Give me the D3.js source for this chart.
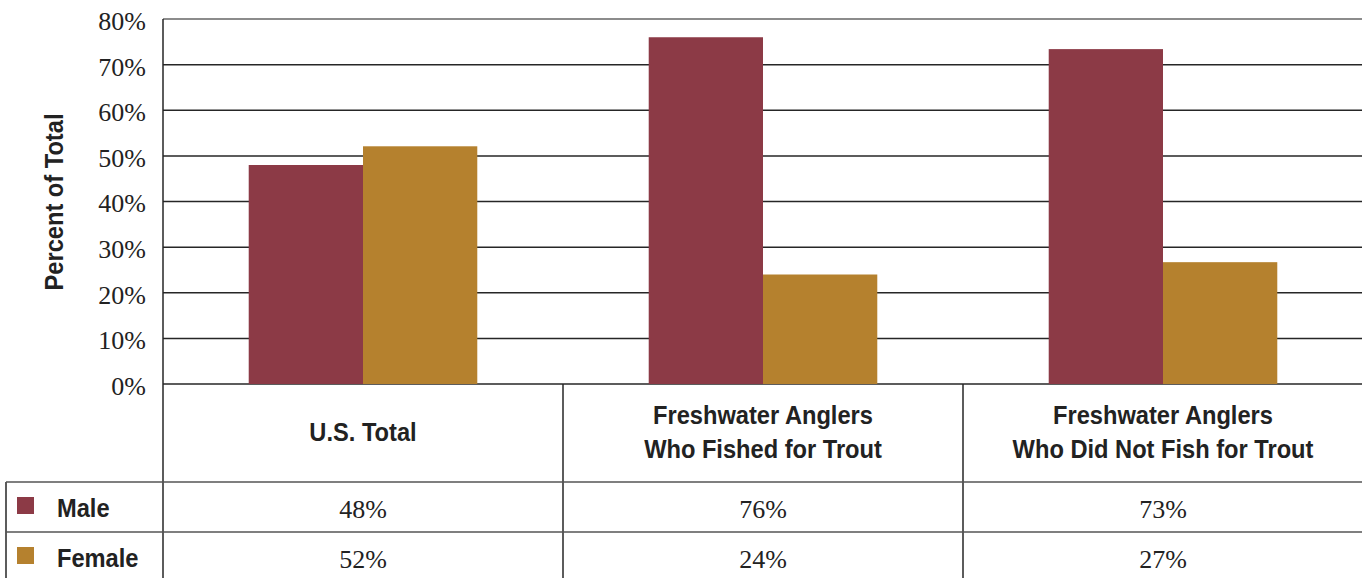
<!DOCTYPE html>
<html><head><meta charset="utf-8">
<script src="https://cdn.jsdelivr.net/npm/d3@7"></script>
<style>
body{margin:0;background:#fff;}
svg{display:block;}
</style></head>
<body>
<svg id="c" width="1362" height="578"></svg>
<script>
const categories = ["U.S. Total", "Freshwater Anglers\nWho Fished for Trout", "Freshwater Anglers\nWho Did Not Fish for Trout"];
const seriesNames = ["Male", "Female"];
const maleValues = [48, 76, 73.4];
const femaleValues = [52.1, 24, 26.7];
const yTicks = [0, 10, 20, 30, 40, 50, 60, 70, 80];
const colors = ["#8c3a46", "#b5812e"];

(function(){
const svg = d3.select("#c");
const pL = 163, pR = 1362, pT = 19, pB = 384;
const tableTop = 482, rowH = 50, tableLeft = 6;
const serif = "'Liberation Serif','DejaVu Serif',serif";
const cond = "'Liberation Sans','Arial',sans-serif";
const condSize = 26, sx = 0.91;

const x = d3.scaleBand().domain(categories).range([pL, pL + 1200]).paddingInner(0).paddingOuter(0);
const xs = d3.scaleBand().domain(seriesNames).range([0, x.bandwidth()]).paddingInner(0).paddingOuter(0.75);
const y = d3.scaleLinear().domain([0, 80]).range([pB, pT]);

svg.append("g").selectAll("line").data(yTicks).join("line")
  .attr("x1", pL).attr("x2", pR)
  .attr("y1", d => y(d)).attr("y2", d => y(d))
  .attr("stroke", d => d === 80 ? "#666" : "#262626").attr("stroke-width", 1.5);

const yAxis = d3.axisLeft(y).tickValues(yTicks).tickFormat(d => d + "%").tickSize(0).tickPadding(17);
const ya = svg.append("g").attr("transform", `translate(${pL},0)`).call(yAxis);
ya.select(".domain").remove();
ya.selectAll("text").attr("font-family", serif).attr("font-size", 26).attr("fill", "#222").attr("dy", "0.4em");

function condText(px, py, txt, anchor, rot) {
  return svg.append("text")
    .attr("transform", `translate(${px},${py})${rot ? " rotate(" + rot + ")" : ""} scale(${sx},1)`)
    .attr("text-anchor", anchor).attr("font-family", cond).attr("font-weight", "bold")
    .attr("font-size", condSize).attr("fill", "#222").text(txt);
}

condText(63, 202, "Percent of Total", "middle", -90);

const data = categories.map((c, i) => ({c, vals: [maleValues[i], femaleValues[i]]}));
const g = svg.append("g");
data.forEach(d => {
  seriesNames.forEach((s, j) => {
    g.append("rect")
      .attr("x", x(d.c) + xs(s)).attr("width", xs.bandwidth())
      .attr("y", y(d.vals[j])).attr("height", y(0) - y(d.vals[j]))
      .attr("fill", colors[j]);
  });
});

const lineCol = "#262626";
svg.append("line").attr("x1", pL).attr("x2", pL).attr("y1", pT).attr("y2", 578).attr("stroke", lineCol).attr("stroke-width", 1.5);
categories.slice(1).forEach(c => {
  svg.append("line").attr("x1", x(c)).attr("x2", x(c)).attr("y1", pB).attr("y2", 578).attr("stroke", lineCol).attr("stroke-width", 1.5);
});
svg.append("line").attr("x1", tableLeft).attr("x2", tableLeft).attr("y1", tableTop).attr("y2", 578).attr("stroke", lineCol).attr("stroke-width", 1.5);
[tableTop, tableTop + rowH].forEach(yy => {
  svg.append("line").attr("x1", tableLeft).attr("x2", pR).attr("y1", yy).attr("y2", yy).attr("stroke", "#555").attr("stroke-width", 1.5);
});

categories.forEach(c => {
  const lines = c.split("\n");
  const cx = x(c) + x.bandwidth() / 2;
  const cy = 441;
  lines.forEach((ln, k) => {
    condText(cx, cy + (k - (lines.length - 1) / 2) * 34, ln, "middle");
  });
});

const rows = [maleValues, femaleValues];
rows.forEach((vals, j) => {
  const cy = tableTop + rowH * j + rowH / 2;
  svg.append("rect").attr("x", 17).attr("y", cy - 10).attr("width", 17).attr("height", 17).attr("fill", colors[j]);
  condText(57, cy + 10, seriesNames[j], "start");
  vals.forEach((v, i) => {
    svg.append("text").attr("x", x(categories[i]) + x.bandwidth() / 2).attr("y", cy + 11)
      .attr("text-anchor", "middle").attr("font-family", serif).attr("font-size", 26).attr("fill", "#222").text(Math.round(v) + "%");
  });
});
})();
</script>
</body></html>
